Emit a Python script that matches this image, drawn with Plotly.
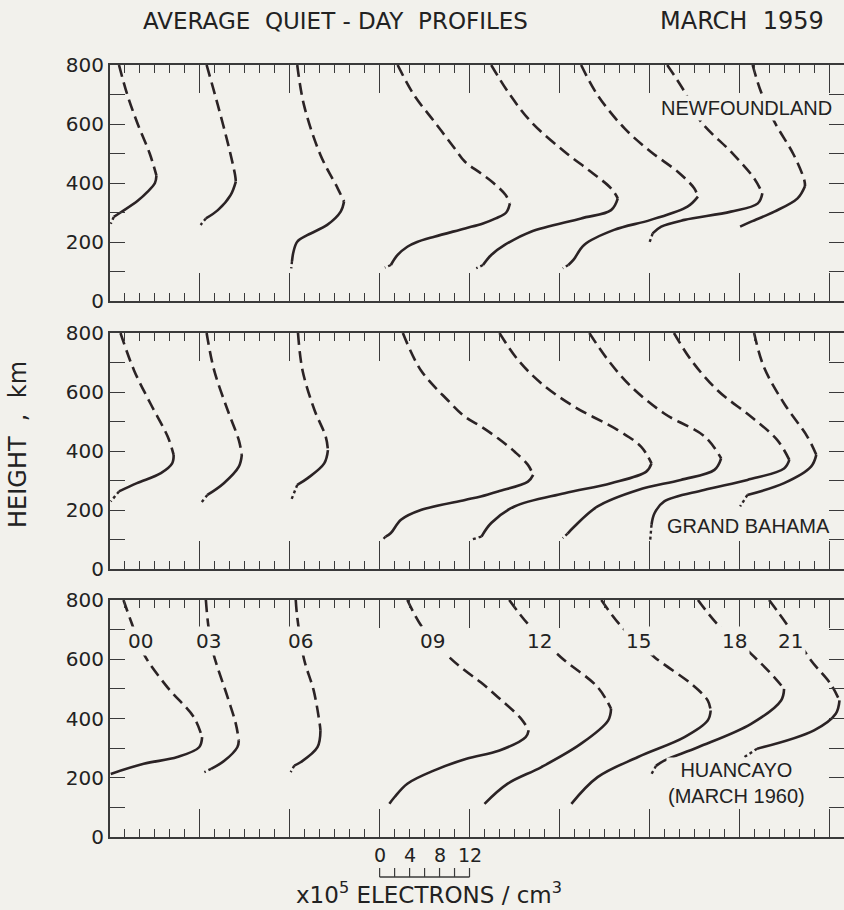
import plotly.graph_objects as go

# ---------------- data ----------------
HOURS = ["00", "03", "06", "09", "12", "15", "18", "21"]
HOUR_STEP = 12  # 3-hour spacing equals 12 x10^5 el/cm3 on the density scale
SCALE_TICKS = [0, 4, 8, 12]

# Newfoundland, March 1959 (height km, density x10^5 el/cm3)
NF_HEIGHT = [
    [800, 700, 600, 500, 425, 400, 370, 340, 300, 285, 262],
    [800, 664, 518, 427, 405, 359, 308, 280, 258],
    [800, 664, 495, 382, 337, 303, 258, 224, 201, 167, 135, 111],
    [800, 698, 608, 518, 472, 433, 400, 360, 331, 300, 280, 263, 246, 218, 200, 184, 156, 122, 113],
    [800, 710, 608, 506, 438, 382, 348, 308, 280, 235, 190, 156, 122, 111],
    [800, 698, 585, 506, 438, 382, 354, 320, 275, 241, 190, 140, 122, 111],
    [800, 710, 608, 506, 416, 365, 331, 303, 275, 252, 229, 196],
    [800, 710, 608, 495, 410, 390, 348, 303, 269, 252],
]
NF_DENSITY = [
    [1.2, 2.3, 3.7, 5.3, 6.2, 6.0, 5.0, 3.7, 1.4, 0.5, 0.1],
    [0.9, 2.4, 3.9, 4.7, 4.8, 4.1, 2.4, 0.8, 0.1],
    [1.0, 1.9, 4.1, 6.4, 7.25, 6.8, 5.0, 2.4, 1.0, 0.5, 0.3, 0.2],
    [2.4, 4.6, 7.3, 10.0, 11.4, 13.5, 15.2, 16.8, 17.4, 16.9, 15.5, 13.8, 11.4, 7.3, 5.0, 3.7, 2.4, 1.5, 0.7],
    [2.9, 5.1, 8.2, 12.7, 16.2, 18.9, 19.8, 18.9, 14.9, 8.2, 4.7, 2.9, 1.8, 0.9],
    [2.9, 5.1, 8.7, 12.2, 15.8, 18.0, 18.5, 17.1, 12.2, 7.3, 3.3, 1.9, 1.2, 0.45],
    [2.4, 4.7, 6.9, 10.9, 14.0, 15.1, 14.5, 10.9, 4.7, 1.6, 0.45, 0.0],
    [1.8, 2.9, 4.7, 7.3, 8.7, 8.8, 7.8, 4.7, 1.6, 0.13],
]
NF_DOTTED_BELOW = [290, 280, 135, 122, 122, 133, 229, 262]

# Grand Bahama, March 1959
GB_HEIGHT = [
    [800, 674, 561, 449, 387, 358, 325, 291, 263, 229],
    [800, 674, 539, 437, 387, 347, 291, 251, 223],
    [800, 674, 539, 449, 403, 358, 308, 285, 234],
    [800, 674, 572, 516, 482, 443, 398, 353, 319, 296, 263, 246, 234, 200, 167, 122, 110, 99],
    [800, 708, 629, 550, 471, 415, 358, 330, 291, 257, 212, 156, 110, 99],
    [800, 708, 618, 527, 449, 375, 336, 302, 268, 212, 144, 120, 105],
    [800, 708, 606, 516, 437, 370, 341, 302, 268, 229, 189, 150, 99],
    [800, 685, 561, 449, 387, 347, 291, 251, 212],
]
GB_DENSITY = [
    [1.4, 3.2, 5.4, 7.7, 8.5, 8.3, 6.8, 3.6, 1.2, 0.1],
    [0.9, 1.9, 3.7, 5.2, 5.6, 5.2, 3.2, 1.0, 0.13],
    [1.1, 1.7, 3.3, 4.8, 5.1, 4.6, 2.4, 1.0, 0.2],
    [3.1, 5.5, 9.1, 11.4, 13.6, 15.8, 18.0, 19.8, 20.5, 19.8, 15.8, 13.5, 11.4, 5.5, 2.85, 1.5, 0.8, 0.4],
    [4.0, 6.5, 9.6, 14.0, 19.8, 22.9, 24.3, 23.6, 18.9, 12.7, 6.0, 2.9, 1.6, 0.2],
    [4.0, 6.5, 9.6, 14.0, 19.4, 21.6, 20.7, 16.2, 10.5, 5.1, 2.0, 1.1, 0.45],
    [3.3, 5.6, 9.1, 13.6, 17.1, 18.7, 18.0, 13.1, 7.3, 2.0, 0.7, 0.3, 0.13],
    [2.0, 3.3, 6.0, 9.1, 10.3, 9.6, 6.0, 1.1, 0.13],
]
GB_DOTTED_BELOW = [263, 251, 285, 116, 110, 120, 150, 251]

# Huancayo, March 1960
HU_HEIGHT = [
    [800, 725, 618, 506, 404, 337, 303, 270, 247, 213],
    [800, 719, 629, 472, 382, 326, 303, 258, 230, 219],
    [800, 742, 601, 494, 382, 360, 303, 253, 241, 219],
    [800, 708, 607, 562, 522, 472, 399, 360, 337, 292, 264, 225, 180, 135, 112],
    [800, 719, 607, 506, 433, 393, 315, 236, 180, 112],
    [800, 713, 607, 517, 461, 427, 393, 337, 270, 202, 112],
    [800, 713, 618, 539, 500, 461, 382, 303, 258, 240, 208],
    [800, 713, 596, 517, 461, 416, 360, 298, 270],
]
HU_DENSITY = [
    [1.8, 2.85, 4.5, 7.65, 11.2, 12.3, 11.9, 9.0, 4.5, 0.1],
    [0.8, 1.1, 1.7, 3.7, 4.8, 5.2, 5.0, 3.3, 1.5, 0.6],
    [0.8, 1.0, 1.9, 3.2, 4.0, 4.1, 3.7, 1.5, 0.6, 0.13],
    [3.7, 5.7, 9.3, 11.4, 13.5, 15.8, 18.9, 19.9, 19.5, 16.0, 11.6, 7.3, 3.7, 2.0, 1.3],
    [5.3, 7.8, 12.2, 17.1, 18.9, 18.5, 14.9, 9.6, 5.1, 2.0],
    [5.6, 8.2, 12.7, 17.6, 19.8, 20.2, 19.8, 16.7, 10.5, 5.1, 1.6],
    [6.5, 9.3, 13.6, 16.7, 18.0, 17.6, 13.6, 6.5, 2.0, 0.9, 0.2],
    [4.0, 6.5, 9.6, 12.2, 13.4, 12.9, 10.0, 2.4, 0.7],
]
HU_DOTTED_BELOW = [None, 230, 241, None, None, None, 240, 298]

STATIONS = [
    ("NEWFOUNDLAND", NF_HEIGHT, NF_DENSITY, NF_DOTTED_BELOW),
    ("GRAND BAHAMA", GB_HEIGHT, GB_DENSITY, GB_DOTTED_BELOW),
    ("HUANCAYO<br>(MARCH 1960)", HU_HEIGHT, HU_DENSITY, HU_DOTTED_BELOW),
]

# ---------------- style ----------------
BG = "#f2f1ec"
INK = "#2b2325"
AXIS = "#3a3a3a"
FONT = "DejaVu Sans"
LW = 2.6
NB = "\u00a0"

W, H = 844, 910
ML, MR, MT, MB = 110, 0, 65, 73
PH = H - MT - MB
PANELS_PX = [(65, 301), (333, 569), (600, 837)]


def py(p):
    return (H - MB - p) / PH


def px(p):
    return (p - ML) / (W - ML - MR)


fig = go.Figure()

for i, (name, hts, dens, dotted) in enumerate(STATIONS):
    ax = "" if i == 0 else str(i + 1)
    for k in range(len(HOURS)):
        hh = hts[k]
        xx = [HOUR_STEP * k + d for d in dens[k]]
        p = max(range(len(xx)), key=lambda j: dens[k][j])
        if dotted[k] is None:
            t = len(hh) - 1
        else:
            t = next(j for j in range(len(hh)) if hh[j] <= dotted[k])
        segs = [(0, p, "12px,6px"), (p, t, "solid"), (t, len(hh) - 1, "dot")]
        for a, b, dash in segs:
            if b <= a:
                continue
            fig.add_trace(go.Scatter(
                x=xx[a:b + 1], y=hh[a:b + 1], mode="lines",
                line=dict(color=INK, width=LW if dash != "dot" else 2.4,
                          dash=dash, shape="spline", smoothing=1.0),
                xaxis="x" + ax, yaxis="y" + ax, showlegend=False,
                hoverinfo="skip"))

layout = dict(
    width=W, height=H,
    margin=dict(l=ML, r=MR, t=MT, b=MB, autoexpand=False),
    paper_bgcolor=BG, plot_bgcolor=BG,
    showlegend=False,
    font=dict(family=FONT, color="#222"),
)

for i, (top, bot) in enumerate(PANELS_PX):
    ax = "" if i == 0 else str(i + 1)
    layout["xaxis" + ax] = dict(
        domain=[0, 1], range=[0, 98], anchor="y" + ax,
        showgrid=False, zeroline=False, showticklabels=False,
        showline=True, linecolor=AXIS, linewidth=2, mirror="ticks",
        ticks="inside", tick0=0, dtick=HOUR_STEP, ticklen=28, tickwidth=1.2,
        tickcolor=AXIS,
        minor=dict(ticks="inside", dtick=2, ticklen=8, tickwidth=1.2,
                   tickcolor=AXIS, showgrid=False),
        fixedrange=True,
    )
    layout["yaxis" + ax] = dict(
        domain=[py(bot), py(top)], range=[0, 800], anchor="x" + ax,
        showgrid=False, zeroline=False,
        showline=True, linecolor=AXIS, linewidth=2, mirror="ticks",
        ticks="inside", tick0=0, dtick=200, ticklen=15, tickwidth=1.2,
        tickcolor=AXIS,
        tickfont=dict(family=FONT, size=20, color="#222"),
        minor=dict(ticks="inside", dtick=100, ticklen=15, tickwidth=1.2,
                   tickcolor=AXIS, showgrid=False),
        fixedrange=True,
    )

fig.update_layout(**layout)


def text(t, xpix, ypix, size, family=FONT, angle=0, **kw):
    fig.add_annotation(text=t, xref="paper", yref="paper", x=px(xpix),
                       y=py(ypix), xanchor="center", yanchor="middle",
                       showarrow=False, textangle=angle,
                       font=dict(size=size, family=family, color="#222"), **kw)


# title
text("AVERAGE" + NB * 2 + "QUIET - DAY" + NB * 2 + "PROFILES", 335, 21, 23)
text("MARCH" + NB * 2 + "1959", 742, 21, 24)

# y-axis title
text("HEIGHT" + NB * 2 + "," + NB * 2 + "km", 18, 445, 24, angle=-90)

# station labels (mask the curves behind them like the original)
text("NEWFOUNDLAND", 746, 108, 20, family="Liberation Sans", bgcolor=BG)
text("GRAND BAHAMA", 748, 526, 20, family="Liberation Sans", bgcolor=BG)
text("HUANCAYO<br>(MARCH 1960)", 736, 783, 20, family="Liberation Sans",
     bgcolor=BG)

# hour labels in bottom panel
HOUR_LABEL_X = [4.1, 13.1, 25.4, 43.1, 57.4, 70.5, 83.4, 90.9]
for lab, xv in zip(HOURS, HOUR_LABEL_X):
    fig.add_annotation(text=lab, xref="x3", yref="y3", x=xv, y=662,
                       xanchor="center", yanchor="middle",
                       showarrow=False, bgcolor=BG, borderpad=2,
                       font=dict(size=20, family=FONT, color="#222"))

# density scale bar below bottom panel (origin at the 09 baseline)
SCALE_ORIGIN = 3 * HOUR_STEP
for v in SCALE_TICKS:
    fig.add_annotation(text=str(v), xref="x3", yref="paper",
                       x=SCALE_ORIGIN + v, y=py(855), showarrow=False,
                       xanchor="center", yanchor="middle",
                       font=dict(size=19, family=FONT, color="#222"))
fig.add_shape(type="line", xref="x3", yref="paper",
              x0=SCALE_ORIGIN, x1=SCALE_ORIGIN + SCALE_TICKS[-1],
              y0=py(877), y1=py(877), line=dict(color=AXIS, width=1.5))
for v in range(0, SCALE_TICKS[-1] + 1, 2):
    fig.add_shape(type="line", xref="x3", yref="paper",
                  x0=SCALE_ORIGIN + v, x1=SCALE_ORIGIN + v,
                  y0=py(877), y1=py(868), line=dict(color=AXIS, width=1.2))
text("x10<sup>5</sup> ELECTRONS" + NB + "/" + NB + "cm<sup>3</sup>", 429, 893, 23)

fig.write_html(
    "out.html",
    config={"displayModeBar": False},
    post_script=("document.body.style.margin='0';"
                 "document.body.style.overflow='hidden';"
                 "document.body.style.background='" + BG + "';"),
)
